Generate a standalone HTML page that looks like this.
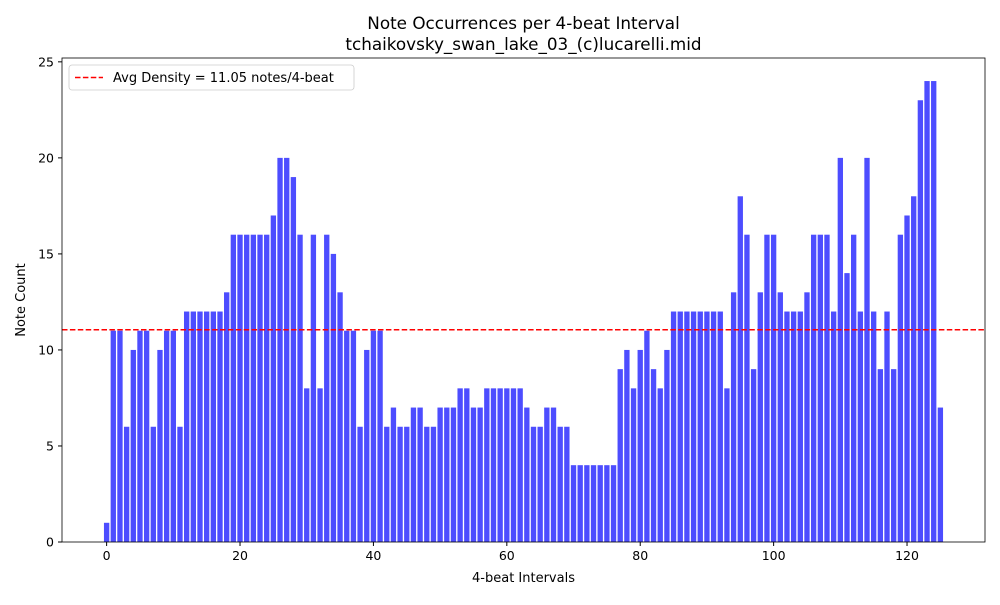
<!DOCTYPE html>
<html><head><meta charset="utf-8"><style>
body{margin:0;background:#fff;font-family:"Liberation Sans","DejaVu Sans",sans-serif}
svg text{font-family:"DejaVu Sans","Liberation Sans",sans-serif}
</style></head><body>
<svg id="chart" width="1000" height="600" xmlns="http://www.w3.org/2000/svg">
<rect width="1000" height="600" fill="#fff"/>
<text x="523.5" y="29" font-size="16.8" text-anchor="middle">Note Occurrences per 4-beat Interval</text>
<text x="523.5" y="50" font-size="16.8" text-anchor="middle">tchaikovsky_swan_lake_03_(c)lucarelli.mid</text>
<g id="bars"></g>
<g id="xticks"></g>
<g id="yticks"></g>
<line id="avg" stroke="#ff0000" stroke-width="1.5" stroke-dasharray="5.5,2.4"/>
<rect x="62" y="58" width="923" height="484" fill="none" stroke="#000" stroke-width="0.8"/>
<text x="523.5" y="582" font-size="13" text-anchor="middle">4-beat Intervals</text>
<text x="25" y="300" font-size="13" text-anchor="middle" transform="rotate(-90 25 300)">Note Count</text>
<g>
<rect x="69" y="65" width="285" height="25" rx="3" fill="#fff" stroke="#ccc" stroke-width="0.8"/>
<line x1="75" y1="77.5" x2="103" y2="77.5" stroke="#ff0000" stroke-width="1.5" stroke-dasharray="5.5,2.4"/>
<text x="113" y="82" font-size="13">Avg Density = 11.05 notes/4-beat</text>
</g>
</svg>
<script>
const counts=[1,11,11,6,10,11,11,6,10,11,11,6,12,12,12,12,12,12,13,16,16,16,16,16,16,17,20,20,19,16,8,16,8,16,15,13,11,11,6,10,11,11,6,7,6,6,7,7,6,6,7,7,7,8,8,7,7,8,8,8,8,8,8,7,6,6,7,7,6,6,4,4,4,4,4,4,4,9,10,8,10,11,9,8,10,12,12,12,12,12,12,12,12,8,13,18,16,9,13,16,16,13,12,12,12,13,16,16,16,12,20,14,16,12,20,12,9,12,9,16,17,18,23,24,24,7];
const avgDensity=11.05;
const xTickLabels=[0,20,40,60,80,100,120];
const yTickLabels=[0,5,10,15,20,25];
const NS="http://www.w3.org/2000/svg";
const L=62,R=985,T=58,B=542;
const xmin=-6.69,xmax=131.69,ymax=25.2;
const xs=v=>L+(v-xmin)/(xmax-xmin)*(R-L);
const ys=v=>B-v/ymax*(B-T);
const bars=document.getElementById('bars');
counts.forEach((c,i)=>{
 const r=document.createElementNS(NS,'rect');
 r.setAttribute('x',xs(i-0.4));r.setAttribute('width',xs(0.8)-xs(0));
 r.setAttribute('y',ys(c));r.setAttribute('height',B-ys(c));
 r.setAttribute('fill','#4d4dff');
 
 
 bars.appendChild(r);
});
const xt=document.getElementById('xticks');
xTickLabels.forEach(v=>{
 const l=document.createElementNS(NS,'line');
 l.setAttribute('x1',xs(v));l.setAttribute('x2',xs(v));l.setAttribute('y1',B);l.setAttribute('y2',B+4);l.setAttribute('stroke','#000');
 
 
 xt.appendChild(l);
 const t=document.createElementNS(NS,'text');
 t.setAttribute('x',xs(v));t.setAttribute('y',B+18);t.setAttribute('font-size','12.5');t.setAttribute('text-anchor','middle');t.textContent=v;
 
 
 xt.appendChild(t);
});
const yt=document.getElementById('yticks');
yTickLabels.forEach(v=>{
 const l=document.createElementNS(NS,'line');
 l.setAttribute('x1',L-4);l.setAttribute('x2',L);l.setAttribute('y1',ys(v));l.setAttribute('y2',ys(v));l.setAttribute('stroke','#000');
 
 
 yt.appendChild(l);
 const t=document.createElementNS(NS,'text');
 t.setAttribute('x',L-8);t.setAttribute('y',ys(v)+4.5);t.setAttribute('font-size','12.5');t.setAttribute('text-anchor','end');t.textContent=v;
 
 
 yt.appendChild(t);
});
const a=document.getElementById('avg');
a.setAttribute('x1',L);a.setAttribute('x2',R);a.setAttribute('y1',ys(avgDensity));a.setAttribute('y2',ys(avgDensity));
</script>
</body></html>
